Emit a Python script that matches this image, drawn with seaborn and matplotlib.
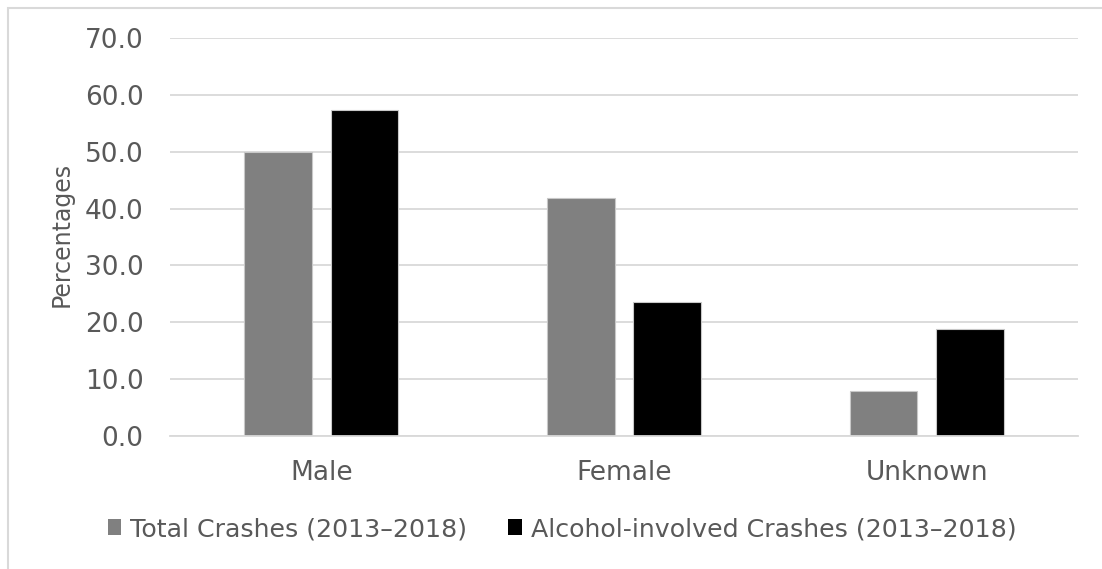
import matplotlib
matplotlib.use("Agg")
import matplotlib.pyplot as plt
import matplotlib.patches as mpatches
import seaborn as sns
import pandas as pd

# Share of crashes by driver sex
categories = ["Male", "Female", "Unknown"]
series_names = ["Total Crashes (2013\u20132018)", "Alcohol-involved Crashes (2013\u20132018)"]
total_crashes = [50.0, 41.9, 8.0]
alcohol_crashes = [57.4, 23.5, 18.8]
y_ticks = [0, 10, 20, 30, 40, 50, 60, 70]

df = pd.DataFrame({
    "Sex": categories * 2,
    "Series": [series_names[0]] * 3 + [series_names[1]] * 3,
    "Percent": total_crashes + alcohol_crashes,
})

sns.set_theme(style="white")
plt.rcParams["font.family"] = ["DejaVu Sans"]
text_color = "#595959"
grid_color = "#d9d9d9"

W, H = 1102, 569
fig = plt.figure(figsize=(W / 100, H / 100), dpi=100)
fig.patch.set_facecolor("white")

# chart-area frame (top and left edges visible)
fig.patches.append(mpatches.Rectangle((8 / W, -0.1), 1.2, 1 - 8 / H + 0.1,
                                      transform=fig.transFigure, fill=False,
                                      edgecolor="#d9d9d9", linewidth=1.5))

ax = fig.add_axes([170 / W, 1 - 436 / H, (1078 - 170) / W, (436 - 38) / H])
sns.barplot(data=df, x="Sex", y="Percent", hue="Series", order=categories,
            hue_order=series_names, palette=["#808080", "#000000"],
            width=0.571, gap=0.214, edgecolor="#c8c8c8", linewidth=0.8,
            ax=ax, legend=True)

ax.set_ylim(0, 70)
ax.set_yticks(y_ticks)
ax.set_yticklabels([f"{v:.1f}" for v in y_ticks])
ax.set_xlim(-0.5, 2.5)
ax.yaxis.grid(True, color=grid_color, linewidth=1.3)
ax.set_axisbelow(True)
for s in ["top", "right", "left"]:
    ax.spines[s].set_visible(False)
ax.spines["bottom"].set_color(grid_color)
ax.spines["bottom"].set_linewidth(1.3)
ax.tick_params(axis="both", length=0, labelsize=19, labelcolor=text_color)
ax.tick_params(axis="y", pad=19)
ax.tick_params(axis="x", pad=17)
ax.set_xlabel("")
ax.set_ylabel("Percentages", fontsize=17, color=text_color)
ax.yaxis.set_label_coords(-0.106, 0.507)

leg = ax.legend(loc="center", bbox_to_anchor=(562 / W, 1 - 529 / H),
                bbox_transform=fig.transFigure, ncol=2, frameon=False,
                fontsize=18.2, handlelength=0.55, handleheight=0.55,
                handletextpad=0.35, columnspacing=1.6)
for t in leg.get_texts():
    t.set_color(text_color)
for h in leg.legend_handles:
    h.set_edgecolor("none")

fig.savefig("out.png", dpi=100, facecolor="white")
